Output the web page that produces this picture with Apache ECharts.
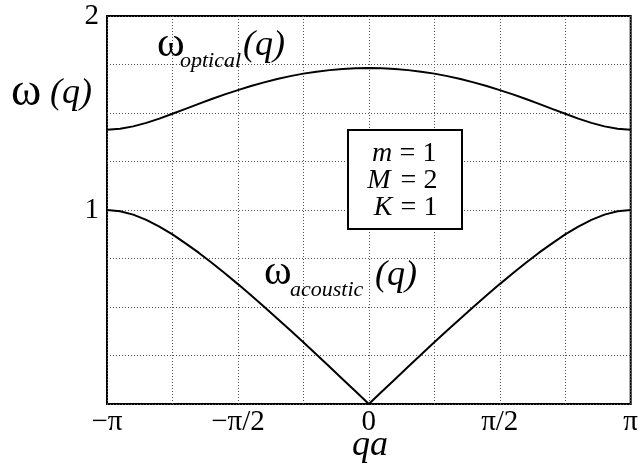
<!DOCTYPE html>
<html>
<head>
<meta charset="utf-8">
<script src="https://cdn.jsdelivr.net/npm/echarts@6/dist/echarts.min.js"></script>
<style>
  html, body { margin: 0; padding: 0; background: #fff; }
  #chart { width: 641px; height: 466px; }
</style>
</head>
<body>
<div id="chart"></div>
<script>
// Diatomic chain dispersion, m = 1, M = 2, K = 1; qa given in units of pi
const qaOverPi = [
  -1.00, -0.95, -0.90, -0.85, -0.80, -0.75, -0.70, -0.65, -0.60, -0.55,
  -0.50, -0.45, -0.40, -0.35, -0.30, -0.25, -0.20, -0.15, -0.10, -0.05,
   0.00,
   0.05,  0.10,  0.15,  0.20,  0.25,  0.30,  0.35,  0.40,  0.45,  0.50,
   0.55,  0.60,  0.65,  0.70,  0.75,  0.80,  0.85,  0.90,  0.95,  1.00
];
const omegaOptical = [
  1.414, 1.419, 1.431, 1.449, 1.471, 1.496, 1.521, 1.547, 1.572, 1.596,
  1.618, 1.639, 1.658, 1.675, 1.690, 1.703, 1.713, 1.721, 1.727, 1.731,
  1.732,
  1.731, 1.727, 1.721, 1.713, 1.703, 1.690, 1.675, 1.658, 1.639, 1.618,
  1.596, 1.572, 1.547, 1.521, 1.496, 1.471, 1.449, 1.431, 1.419, 1.414
];
const omegaAcoustic = [
  1.000, 0.994, 0.976, 0.949, 0.914, 0.874, 0.828, 0.780, 0.728, 0.674,
  0.618, 0.560, 0.501, 0.441, 0.380, 0.318, 0.255, 0.192, 0.128, 0.064,
  0.000,
  0.064, 0.128, 0.192, 0.255, 0.318, 0.380, 0.441, 0.501, 0.560, 0.618,
  0.674, 0.728, 0.780, 0.828, 0.874, 0.914, 0.949, 0.976, 0.994, 1.000
];
const xTickLabels = { '-1': '\u2212\u03c0', '-0.5': '\u2212\u03c0/2', '0': '0', '0.5': '\u03c0/2', '1': '\u03c0' };
const yTickLabels = { '1': '1', '2': '2' };

const serif = 'Liberation Serif, Times New Roman, serif';

function txt(text, x, y, size, italic, align) {
  return {
    type: 'text', z: 110,
    style: {
      text: text, x: x, y: y,
      fontFamily: serif, fontSize: size, fontStyle: italic ? 'italic' : 'normal',
      fill: '#000',
      align: align || 'left', textAlign: align || 'left',
      verticalAlign: 'middle', textVerticalAlign: 'middle'
    }
  };
}

const chart = echarts.init(document.getElementById('chart'), null, { renderer: 'canvas' });
chart.setOption({
  backgroundColor: '#fff',
  animation: false,
  grid: {
    left: 107, right: 8, top: 16, bottom: 62,
    show: true, borderColor: '#000', borderWidth: 2, backgroundColor: 'transparent'
  },
  xAxis: {
    type: 'value', min: -1, max: 1, interval: 0.25,
    axisLine: { show: false }, axisTick: { show: false },
    axisLabel: {
      margin: 4, color: '#000', fontFamily: serif, fontSize: 29,
      showMinLabel: true, showMaxLabel: true,
      formatter: v => xTickLabels[String(+v.toFixed(2))] || ''
    },
    splitLine: { show: true, lineStyle: { color: '#555', width: 1, type: [1, 2] } }
  },
  yAxis: {
    type: 'value', min: 0, max: 2, interval: 0.25,
    axisLine: { show: false }, axisTick: { show: false },
    axisLabel: {
      margin: 8, color: '#000', fontFamily: serif, fontSize: 29,
      showMinLabel: true, showMaxLabel: true,
      formatter: v => yTickLabels[String(+v.toFixed(2))] || ''
    },
    splitLine: { show: true, lineStyle: { color: '#555', width: 1, type: [1, 2] } }
  },
  series: [
    {
      name: 'optical', type: 'line', symbol: 'none', smooth: false,
      lineStyle: { color: '#000', width: 2 },
      data: qaOverPi.map((q, i) => [q, omegaOptical[i]]), z: 5
    },
    {
      name: 'acoustic', type: 'line', symbol: 'none', smooth: false,
      lineStyle: { color: '#000', width: 2 },
      data: qaOverPi.map((q, i) => [q, omegaAcoustic[i]]), z: 5
    }
  ],
  graphic: [
    // axis titles
    txt('\u03c9', 11, 93, 46, false),
    txt('(q)', 50, 94, 36, true),
    txt('qa', 370, 446, 36, true, 'center'),
    // branch labels
    txt('\u03c9', 157, 45, 42, false),
    txt('optical', 180, 61, 22, true),
    txt('(q)', 243, 46, 36, true),
    txt('\u03c9', 264, 273, 42, false),
    txt('acoustic', 290, 290, 22, true),
    txt('(q)', 375, 276, 36, true),
    // parameter box
    {
      type: 'rect', z: 105,
      shape: { x: 348, y: 130, width: 114, height: 99 },
      style: { fill: '#fff', stroke: '#000', lineWidth: 2 }
    },
    txt('m', 382, 154, 28, true, 'center'),
    txt('= 1', 418, 154, 28, false, 'center'),
    txt('M', 379, 181, 28, true, 'center'),
    txt('= 2', 419, 181, 28, false, 'center'),
    txt('K', 383, 208, 28, true, 'center'),
    txt('= 1', 419, 208, 28, false, 'center')
  ]
});
</script>
</body>
</html>
